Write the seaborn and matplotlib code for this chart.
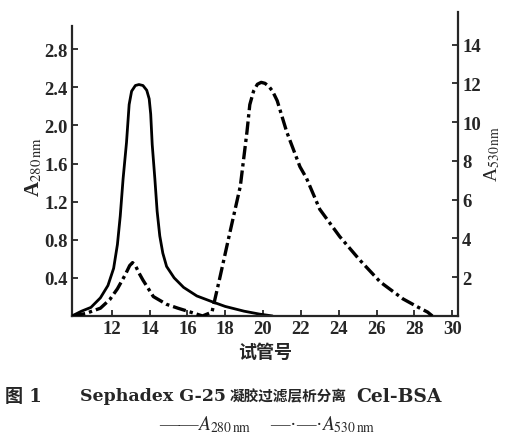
import matplotlib
matplotlib.use("Agg")
import matplotlib.pyplot as plt
import seaborn as sns
import pandas as pd

# tube number vs absorbance
tube_280 = [9.9, 10.4, 10.9, 11.4, 11.8, 12.1, 12.3, 12.45, 12.6, 12.78, 12.92, 13.05, 13.25,
            13.44, 13.65, 13.85, 13.98, 14.06, 14.14, 14.28, 14.4, 14.54, 14.7, 14.9, 15.3,
            15.8, 16.5, 17.3, 18.0, 19.0, 19.8, 20.5]
a280 = [0, 0.05, 0.09, 0.19, 0.32, 0.5, 0.75, 1.05, 1.44, 1.82, 2.22, 2.36, 2.42,
        2.43, 2.42, 2.37, 2.28, 2.12, 1.8, 1.44, 1.1, 0.84, 0.66, 0.52, 0.4,
        0.3, 0.21, 0.15, 0.1, 0.05, 0.02, 0]

tube_530 = [9.9, 10.6, 11.4, 11.9, 12.3, 12.7, 12.95, 13.1, 13.25, 13.45, 13.65, 14.2, 14.9,
            15.5, 16.0, 16.8, 17.3, 17.7, 18.2, 18.8, 19.15, 19.3, 19.5, 19.7, 19.9, 20.1,
            20.3, 20.5, 20.75, 21.25, 21.95, 22.3, 23.0, 24.05, 25.1, 26.2, 27.4, 28.2,
            28.7, 28.95]
a530 = [0, 0.12, 0.4, 0.85, 1.4, 2.1, 2.6, 2.75, 2.6, 2.2, 1.85, 1.0, 0.6,
        0.4, 0.25, 0, 0.2, 1.9, 4.1, 6.7, 9.5, 10.9, 11.6, 11.95, 12.05, 12.0,
        11.85, 11.6, 11.1, 9.5, 7.7, 7.1, 5.5, 4.1, 2.9, 1.75, 0.88, 0.45,
        0.2, 0]

x_ticks = [12, 14, 16, 18, 20, 22, 24, 26, 28, 30]
left_ticks = [0.4, 0.8, 1.2, 1.6, 2.0, 2.4, 2.8]
right_ticks = [2, 4, 6, 8, 10, 12, 14]

sns.set_style("ticks")
plt.rcParams['font.family'] = ['Liberation Serif', 'Noto Sans CJK SC']
plt.rcParams['mathtext.fontset'] = 'stix'

df280 = pd.DataFrame({"tube": tube_280, "abs": a280})
df530 = pd.DataFrame({"tube": tube_530, "abs": a530})

fig = plt.figure(figsize=(5.09, 4.39), dpi=100)
ax = fig.add_axes([0.1415, 0.278, 0.758, 0.692])
ax2 = ax.twinx()

sns.lineplot(data=df280, x="tube", y="abs", ax=ax, color="black", lw=2.0, sort=False)
sns.lineplot(data=df530, x="tube", y="abs", ax=ax2, color="black", lw=2.4, sort=False,
             linestyle=(0, (4, 1.2, 1.0, 1.2)))

ax.set_xlim(9.9, 30.3)
ax.set_ylim(0, 3.19)
ax2.set_ylim(0, 15.67)

ax.set_xticks(x_ticks)
ax.set_yticks(left_ticks)
ax.set_yticklabels([f"{v:.1f}" for v in left_ticks])
ax2.set_yticks(right_ticks)

for a in (ax, ax2):
    a.tick_params(direction="in", length=4, width=1.3, labelsize=13.5, pad=3)
    for lab in a.get_xticklabels() + a.get_yticklabels():
        lab.set_fontweight("bold")
    for s in a.spines.values():
        s.set_linewidth(1.6)
    a.spines["top"].set_visible(False)

ax.spines["right"].set_visible(False)
ax2.spines["left"].set_visible(False)
ax2.spines["bottom"].set_visible(False)
ax.spines["left"].set_bounds(0, 3.05)

ax.set_xlabel("")
ax.set_ylabel("")
ax2.set_ylabel("")

fig.text(0.066, 0.62, r"A$_{280\,\mathrm{nm}}$", rotation=90, ha="center", va="center",
         fontsize=15, fontweight="bold")
fig.text(0.967, 0.65, r"A$_{530\,\mathrm{nm}}$", rotation=90, ha="center", va="center",
         fontsize=14)
fig.text(0.52, 0.195, "试管号", ha="center", va="center", fontsize=13, fontweight="bold")

# caption, placed in pieces to follow the wide spacing of the printed figure
serif_cjk = ['DejaVu Serif', 'Noto Sans CJK SC']
cap_y = 0.096
fig.text(5 / 509, cap_y, "图 1", ha="left", va="center", fontsize=13, fontweight="bold",
         family=serif_cjk)
fig.text(80 / 509, cap_y, "Sephadex G-25", ha="left", va="center", fontsize=12.5,
         fontweight="bold", family=serif_cjk)
fig.text(230 / 509, cap_y, "凝胶过滤层析分离", ha="left", va="center", fontsize=10.5,
         fontweight="bold", family=['Noto Sans CJK SC'])
fig.text(356 / 509, cap_y, "Cel-BSA", ha="left", va="center", fontsize=13.5,
         fontweight="bold", family=serif_cjk)
fig.text(0.525, 0.032, r"——$A_{280\,\mathrm{nm}}$    —·—·$A_{530\,\mathrm{nm}}$",
         ha="center", va="center", fontsize=14)

fig.savefig("out.png", dpi=100)
